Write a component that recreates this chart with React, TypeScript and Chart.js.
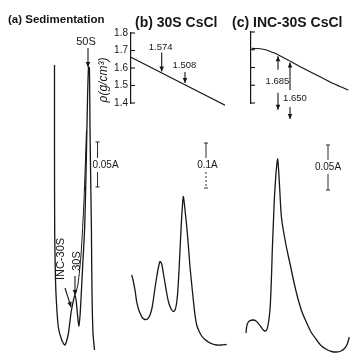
import React, { useEffect, useRef } from "react";
import { Chart, registerables } from "chart.js";

Chart.register(...registerables);

const FAMILY = "'Liberation Sans', Arial, sans-serif";
const INK = "#161616";

// ---------- Panel (a): sedimentation profile (figure units: position, depth from top) ----------
const traceAX = [54.5, 54.5, 54.7, 55.5, 56.3, 58.3, 61.7, 65, 68.3, 70, 71.3, 73.3, 75, 76.3, 77.5, 78.8, 80, 81.3, 83, 84.7, 86.3, 87.5, 88.5, 89.4, 90, 90.7, 91.4, 92, 93, 94.5];
const traceAY = [65, 150, 233, 280, 300, 327, 340, 345, 334, 321, 311, 301, 295, 302, 315, 326, 316, 293, 260, 227, 160, 100, 67, 68, 127, 180, 227, 293, 333, 350];
const shoulderAX = [75.5, 78, 81, 84, 86.5];
const shoulderAY = [294, 284, 255, 200, 130];

// ---------- Panel (b): 30S CsCl profile ----------
const traceBX = [131.7, 133, 135, 136.7, 138.5, 140, 142.5, 145, 147.5, 150, 152, 153.3, 155, 156.7, 158.3, 160, 161.7, 163.3, 165, 166.7, 168.3, 170, 171.7, 173.3, 175, 176.3, 177.5, 178.3, 179.3, 180, 181, 181.7, 182.5, 183.3, 184.3, 185.3, 186.3, 187.3, 188.7, 190, 191.7, 193.3, 195, 196.7, 199, 201.7, 205, 208.3, 212.5, 216.7, 221, 226.7];
const traceBY = [275, 280, 290, 302, 309, 313, 318, 319.5, 319, 315, 308, 300, 288, 277, 268, 261.5, 264, 273, 283, 293, 301, 306.5, 310, 311.5, 310, 305, 295, 283, 265, 250, 230, 217, 205, 196.5, 203, 213, 222, 233, 250, 267, 284, 300, 315, 325, 331, 336, 339.5, 342, 344, 345, 345, 344.5];

// ---------- Panel (c): INC-30S CsCl profile ----------
const traceCX = [246, 246.7, 248, 250, 253.3, 256, 258.3, 261, 263.3, 265, 266.7, 268, 269.3, 270.3, 271, 271.7, 272.3, 273.3, 274.3, 275.2, 276, 277, 277.7, 278.6, 279.5, 280.3, 281, 282, 284, 286, 288.3, 290.5, 293, 295.5, 298.3, 302, 306.7, 311, 316.7, 321.5, 326.7, 331.5, 336.7, 341, 344.5, 347.3, 349.3];
const traceCY = [333, 326.5, 322.5, 320.7, 320, 321, 323.3, 327, 330, 331, 330, 325, 316.7, 305, 290, 270, 250, 225, 200, 185, 173, 163, 159, 170, 185, 200, 212, 222, 234, 245, 256, 266, 278, 289, 300, 312, 323, 332, 340, 346, 349.5, 351.5, 352, 351, 348.5, 344, 337];

// ---------- CsCl density gradients (g/cm3) ----------
const densityBX = [131, 225];
const densityB = [1.661, 1.387];
const densityCX = [251.7, 263.3, 275, 286.7, 303.3, 320, 336.7, 348.3];
const densityC = [1.708, 1.703, 1.68, 1.646, 1.596, 1.548, 1.501, 1.473];
const densityTicks = [1.4, 1.5, 1.6, 1.7, 1.8];
const peakBX = [161.7, 185];
const peakB = [1.574, 1.508];
const peakCX = [278, 290];
const peakC = [1.685, 1.65];

// ---------- Text ----------
const panelTitles = ["(a) Sedimentation", "(b) 30S CsCl", "(c) INC-30S CsCl"];
const scaleBarLabels = ["0.05A", "0.1A", "0.05A"];
const bandLabels = ["50S", "INC-30S", "30S"];
const densityTitle = "ρ(g/cm³)";

const pts = (xs: number[], ys: number[]) => xs.map((x, i) => ({ x, y: ys[i] }));

const interp = (xs: number[], ys: number[], x: number) => {
  for (let i = 0; i < xs.length - 1; i++) {
    if (x >= xs[i] && x <= xs[i + 1]) {
      const t = (x - xs[i]) / (xs[i + 1] - xs[i]);
      return ys[i] + t * (ys[i + 1] - ys[i]);
    }
  }
  return ys[ys.length - 1];
};

type Pt = [number, number, number?, number?];
type Item =
  | { kind: "text"; at: Pt; text: string; font: string; align?: CanvasTextAlign; rot?: number }
  | { kind: "arrow"; from: Pt; to: Pt }
  | { kind: "bar"; x: number; y1: number; y2: number; ly: number; lx: number; label: string; dashedLower?: boolean };

const annotate = {
  id: "annotate",
  afterDatasetsDraw(chart: any) {
    const opts = chart.options.plugins.annotate || {};
    const items: Item[] = opts.items || [];
    const ctx: CanvasRenderingContext2D = chart.ctx;
    const sx = chart.scales.x;
    const sy = chart.scales.y;
    const P = (p: Pt) => [sx.getPixelForValue(p[0]) + (p[2] || 0), sy.getPixelForValue(p[1]) + (p[3] || 0)];
    ctx.save();
    ctx.strokeStyle = INK;
    ctx.fillStyle = INK;
    ctx.lineWidth = 1.1;
    if (opts.inTicks) {
      const left = chart.chartArea.left;
      for (const t of sy.ticks) {
        const y = sy.getPixelForValue(t.value);
        ctx.beginPath();
        ctx.moveTo(left, y);
        ctx.lineTo(left + 4, y);
        ctx.stroke();
      }
    }
    for (const it of items) {
      if (it.kind === "text") {
        const [x, y] = P(it.at);
        ctx.save();
        ctx.translate(x, y);
        if (it.rot) ctx.rotate(it.rot);
        ctx.font = it.font;
        ctx.textAlign = it.align || "center";
        ctx.textBaseline = "middle";
        ctx.fillText(it.text, 0, 0);
        ctx.restore();
      } else if (it.kind === "arrow") {
        const [x1, y1] = P(it.from);
        const [x2, y2] = P(it.to);
        ctx.beginPath();
        ctx.moveTo(x1, y1);
        ctx.lineTo(x2, y2);
        ctx.stroke();
        const a = Math.atan2(y2 - y1, x2 - x1);
        const L = 5, W = 2.3;
        ctx.beginPath();
        ctx.moveTo(x2, y2);
        ctx.lineTo(x2 - L * Math.cos(a) + W * Math.sin(a), y2 - L * Math.sin(a) - W * Math.cos(a));
        ctx.lineTo(x2 - L * Math.cos(a) - W * Math.sin(a), y2 - L * Math.sin(a) + W * Math.cos(a));
        ctx.closePath();
        ctx.fill();
      } else if (it.kind === "bar") {
        const x = sx.getPixelForValue(it.x);
        const y1 = sy.getPixelForValue(it.y1);
        const y2 = sy.getPixelForValue(it.y2);
        const ly = sy.getPixelForValue(it.ly);
        ctx.lineWidth = 0.9;
        ctx.beginPath();
        ctx.moveTo(x, y1);
        ctx.lineTo(x, ly - 7);
        ctx.moveTo(x - 2, y1);
        ctx.lineTo(x + 2, y1);
        ctx.stroke();
        ctx.save();
        if (it.dashedLower) ctx.setLineDash([2, 2]);
        ctx.beginPath();
        ctx.moveTo(x, ly + 7);
        ctx.lineTo(x, y2);
        ctx.stroke();
        ctx.restore();
        ctx.beginPath();
        ctx.moveTo(x - 2, y2);
        ctx.lineTo(x + 2, y2);
        ctx.stroke();
        ctx.font = `10px ${FAMILY}`;
        ctx.textAlign = "center";
        ctx.textBaseline = "middle";
        ctx.fillText(it.label, sx.getPixelForValue(it.lx), ly);
        ctx.lineWidth = 1.1;
      }
    }
    ctx.restore();
  },
};

const traceStyle = {
  showLine: true,
  pointRadius: 0,
  borderColor: INK,
  borderWidth: 1.3,
  tension: 0.25,
  fill: false,
};

function mainConfig(): any {
  const small = `11px ${FAMILY}`;
  const items: Item[] = [
    { kind: "text", at: [8, 20], text: panelTitles[0], font: `bold 11.5px ${FAMILY}`, align: "left" },
    { kind: "text", at: [135, 23], text: panelTitles[1], font: `bold 14px ${FAMILY}`, align: "left" },
    { kind: "text", at: [232, 23], text: panelTitles[2], font: `bold 14px ${FAMILY}`, align: "left" },
    { kind: "text", at: [86, 42], text: bandLabels[0], font: small },
    { kind: "arrow", from: [88, 48], to: [88, 67] },
    { kind: "text", at: [61, 259], text: bandLabels[1], font: small, rot: -Math.PI / 2 },
    { kind: "text", at: [76.5, 261], text: bandLabels[2], font: small, rot: -Math.PI / 2 },
    { kind: "arrow", from: [65, 288], to: [71, 307] },
    { kind: "arrow", from: [75, 276], to: [75, 295] },
    { kind: "text", at: [104, 80], text: densityTitle, font: `italic 12px ${FAMILY}`, rot: -Math.PI / 2 },
    { kind: "bar", x: 97.5, y1: 142, y2: 187, ly: 165, lx: 105.5, label: scaleBarLabels[0] },
    { kind: "bar", x: 206, y1: 143, y2: 188, ly: 165, lx: 207.5, label: scaleBarLabels[1], dashedLower: true },
    { kind: "bar", x: 328, y1: 145, y2: 190, ly: 167, lx: 328, label: scaleBarLabels[2] },
  ];
  return {
    type: "scatter",
    data: {
      datasets: [
        { ...traceStyle, data: pts(traceAX, traceAY) },
        { ...traceStyle, borderWidth: 1, data: pts(shoulderAX, shoulderAY) },
        { ...traceStyle, data: pts(traceBX, traceBY) },
        { ...traceStyle, data: pts(traceCX, traceCY) },
      ],
    },
    options: {
      responsive: false,
      animation: false,
      layout: { padding: 0 },
      scales: {
        x: { type: "linear", display: false, min: 0, max: 350 },
        y: { type: "linear", display: false, min: 0, max: 356, reverse: true },
      },
      plugins: { legend: { display: false }, tooltip: { enabled: false }, annotate: { items } },
    },
    plugins: [annotate],
  };
}

function insetConfig(xs: number[], rho: number[], xmin: number, xmax: number, labels: boolean, items: Item[]): any {
  return {
    type: "scatter",
    data: {
      datasets: [
        { showLine: true, pointRadius: 0, borderColor: INK, borderWidth: 1.2, tension: 0.3, clip: false, data: pts(xs, rho) },
      ],
    },
    options: {
      responsive: false,
      animation: false,
      layout: { padding: { top: 8, bottom: 21, left: 0, right: 0 } },
      scales: {
        x: { type: "linear", display: false, min: xmin, max: xmax },
        y: {
          type: "linear",
          position: "left",
          min: densityTicks[0],
          max: densityTicks[densityTicks.length - 1],
          afterFit: (s: any) => {
            s.width = 31;
          },
          afterBuildTicks: (s: any) => {
            s.ticks = densityTicks.map((v) => ({ value: v }));
          },
          grid: { drawOnChartArea: false, drawTicks: false },
          border: { display: true, color: INK, width: 1.2 },
          ticks: {
            display: labels,
            autoSkip: false,
            padding: 3,
            color: INK,
            font: { size: 10, family: FAMILY },
            callback: (v: any) => Number(v).toFixed(1),
          },
        },
      },
      plugins: { legend: { display: false }, tooltip: { enabled: false }, annotate: { items, inTicks: true } },
    },
    plugins: [annotate],
  };
}

export default function App() {
  const mainRef = useRef<HTMLCanvasElement>(null);
  const bRef = useRef<HTMLCanvasElement>(null);
  const cRef = useRef<HTMLCanvasElement>(null);

  useEffect(() => {
    const f9 = `9.5px ${FAMILY}`;
    const bItems: Item[] = [
      { kind: "arrow", from: [peakBX[0], peakB[0], 0, -20], to: [peakBX[0], peakB[0], 0, -1] },
      { kind: "text", at: [peakBX[0], peakB[0], -1, -25], text: peakB[0].toFixed(3), font: f9 },
      { kind: "arrow", from: [peakBX[1], peakB[1], 0, -12], to: [peakBX[1], peakB[1], 0, -1] },
      { kind: "text", at: [peakBX[1], peakB[1], -0.5, -19], text: peakB[1].toFixed(3), font: f9 },
    ];
    const t0 = interp(densityCX, densityC, peakCX[0]);
    const t1 = interp(densityCX, densityC, peakCX[1]);
    const cItems: Item[] = [
      { kind: "arrow", from: [peakCX[0], t0, 0, 15], to: [peakCX[0], t0, 0, 1.5] },
      { kind: "arrow", from: [peakCX[1], t1, 0, 29], to: [peakCX[1], t1, 0, 1.5] },
      { kind: "text", at: [peakCX[0], t0, -0.5, 26.5], text: peakC[0].toFixed(3), font: f9 },
      { kind: "text", at: [peakCX[1], t1, 5, 37], text: peakC[1].toFixed(3), font: f9 },
      { kind: "arrow", from: [peakCX[0], t0, 0, 38], to: [peakCX[0], t0, 0, 55] },
      { kind: "arrow", from: [peakCX[1], t1, 0, 46], to: [peakCX[1], t1, 0, 58] },
    ];
    const charts = [
      new Chart(mainRef.current!, mainConfig()),
      new Chart(bRef.current!, insetConfig(densityBX, densityB, 131, 225, true, bItems)),
      new Chart(cRef.current!, insetConfig(densityCX, densityC, 251, 349, false, cItems)),
    ];
    return () => charts.forEach((c) => c.destroy());
  }, []);

  const abs = (l: number, t: number, w: number, h: number): React.CSSProperties => ({
    position: "absolute",
    left: l,
    top: t,
    width: w,
    height: h,
  });

  return (
    <div style={{ ...abs(0, 0, 350, 356), background: "#fff", overflow: "hidden" }}>
      <canvas ref={mainRef} width={350} height={356} style={abs(0, 0, 350, 356)} />
      <canvas ref={bRef} width={125} height={100} style={abs(100, 24, 125, 100)} />
      <canvas ref={cRef} width={129} height={100} style={abs(220, 24, 129, 100)} />
    </div>
  );
}
